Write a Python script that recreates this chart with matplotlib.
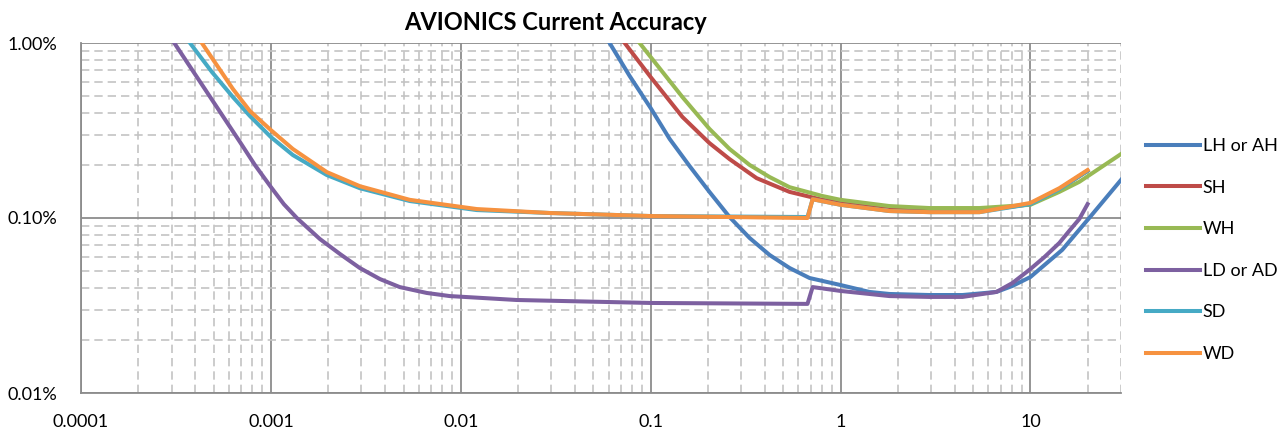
import numpy as np
import matplotlib
matplotlib.use("Agg")
import matplotlib.pyplot as plt
from matplotlib.ticker import FixedLocator, FixedFormatter, LogLocator, NullFormatter

plt.rcParams['font.family'] = ['Lato', 'DejaVu Sans']

# current (A) vs accuracy (%)
lh_x = [0.0608, 0.0775, 0.1, 0.1259, 0.1604, 0.204, 0.2604, 0.332, 0.4229, 0.539, 0.687, 1.0, 1.42, 1.81,
        2.94, 4.39, 6.62, 8.04, 10, 14.7, 20.4, 30]
lh_y = [1.0, 0.648, 0.425, 0.283, 0.198, 0.141, 0.1013, 0.0769, 0.0615, 0.0518, 0.0454, 0.0414, 0.0378, 0.0368,
        0.0363, 0.0363, 0.0378, 0.0409, 0.0460, 0.0657, 0.100, 0.165]

sh_x = [0.073, 0.1, 0.147, 0.204, 0.2604, 0.3613, 0.539, 0.804, 1.0, 1.81, 2.94, 5.39, 10, 14.2, 20]
sh_y = [1.0, 0.639, 0.378, 0.268, 0.217, 0.169, 0.141, 0.127, 0.1234, 0.1156, 0.111, 0.1096, 0.120, 0.146, 0.186]

wh_x = [0.0875, 0.1, 0.147, 0.204, 0.2604, 0.332, 0.4229, 0.539, 0.804, 1.0, 1.81, 2.94, 5.39, 10, 14.2, 18.1, 30]
wh_y = [1.0, 0.832, 0.491, 0.323, 0.248, 0.201, 0.1715, 0.150, 0.1335, 0.127, 0.117, 0.114, 0.114, 0.119, 0.141,
        0.161, 0.232]

ld_x = [0.00031, 0.000449, 0.000687, 0.000824, 0.001, 0.00117, 0.00137, 0.00181, 0.00231, 0.00294, 0.00375,
        0.00477, 0.00662, 0.00875, 0.0197, 0.1, 0.670, 0.713, 1.0, 1.81, 2.94, 4.39, 6.62, 8.04, 10, 11.85, 14.2,
        16.0, 18.1, 20]
ld_y = [1.0, 0.546, 0.272, 0.2008, 0.1504, 0.120, 0.100, 0.0759, 0.0623, 0.0518, 0.0448,
        0.0403, 0.0373, 0.0358, 0.0340, 0.0327, 0.0323, 0.0403, 0.0383, 0.0358, 0.0354, 0.0354, 0.0378, 0.0425,
        0.0511, 0.0598, 0.0720, 0.0843, 0.0987, 0.120]

sd_x = [0.000375, 0.000489, 0.000631, 0.000775, 0.001, 0.001305, 0.00197, 0.00294, 0.00539, 0.01214, 0.0294,
        0.1, 0.670, 0.713, 1.0, 1.81, 2.94, 5.39, 10, 14.2, 20]
sd_y = [1.0, 0.683, 0.491, 0.383, 0.290, 0.229, 0.176, 0.148, 0.125, 0.111, 0.1068,
        0.1026, 0.1013, 0.128, 0.119, 0.1096, 0.108, 0.108, 0.120, 0.146, 0.186]

wd_x = [0.000433, 0.000631, 0.000775, 0.001, 0.001305, 0.00197, 0.00294, 0.00539, 0.01214, 0.0294, 0.1, 0.670,
        0.713, 1.0, 1.81, 2.94, 5.39, 10, 14.2, 20]
wd_y = [1.0, 0.546, 0.409, 0.318, 0.248, 0.183, 0.152, 0.127, 0.1125, 0.1068, 0.1026, 0.100,
        0.128, 0.119, 0.1096, 0.108, 0.108, 0.122, 0.148, 0.188]

series = [
    ("LH or AH", lh_x, lh_y, "#4A7EBB"),
    ("SH", sh_x, sh_y, "#BE4B48"),
    ("WH", wh_x, wh_y, "#98B954"),
    ("LD or AD", ld_x, ld_y, "#7D60A0"),
    ("SD", sd_x, sd_y, "#46AAC5"),
    ("WD", wd_x, wd_y, "#F69240"),
]

x_ticks = [0.0001, 0.001, 0.01, 0.1, 1, 10]
x_labels = ["0.0001", "0.001", "0.01", "0.1", "1", "10"]
y_ticks = [0.01, 0.1, 1.0]
y_labels = ["0.01%", "0.10%", "1.00%"]

fig = plt.figure(figsize=(12.86, 4.32), dpi=100)
ax = fig.add_axes([81 / 1286, 1 - 393 / 432, (1121 - 81) / 1286, (393 - 43) / 432])

for name, xs, ys, col in series:
    ax.plot(xs, ys, color=col, lw=2.9, label=name, solid_joinstyle='round')

ax.set_xscale('log')
ax.set_yscale('log')
ax.set_xlim(0.0001, 30)
ax.set_ylim(0.01, 1.0)

ax.xaxis.set_major_locator(FixedLocator(x_ticks))
ax.xaxis.set_major_formatter(FixedFormatter(x_labels))
ax.yaxis.set_major_locator(FixedLocator(y_ticks))
ax.yaxis.set_major_formatter(FixedFormatter(y_labels))
ax.xaxis.set_minor_locator(LogLocator(base=10, subs=np.arange(2, 10), numticks=20))
ax.yaxis.set_minor_locator(LogLocator(base=10, subs=np.arange(2, 10), numticks=20))
ax.xaxis.set_minor_formatter(NullFormatter())
ax.yaxis.set_minor_formatter(NullFormatter())

ax.grid(which='major', color='#8c8c8c', lw=1.3, ls='-')
ax.grid(which='minor', color='#c3c3c3', lw=1.2, ls=(0, (5, 3)))
ax.set_axisbelow(True)

for side in ['top', 'right']:
    ax.spines[side].set_visible(False)
for side in ['left', 'bottom']:
    ax.spines[side].set_color('#8c8c8c')
    ax.spines[side].set_linewidth(1.3)

ax.tick_params(which='both', length=0)
ax.tick_params(axis='x', labelsize=13, pad=15)
ax.tick_params(axis='y', labelsize=13, pad=17)

fig.text(556 / 1286, 1 - 22 / 432, "AVIONICS Current Accuracy", ha='center', va='center',
         fontsize=17, fontweight='bold')

fig.legend(loc='center left', bbox_to_anchor=(1137 / 1286, 1 - 250 / 432), frameon=False,
           fontsize=13, handlelength=3.0, handletextpad=0.15, labelspacing=1.42, borderpad=0)

fig.savefig("out.png", dpi=100)
